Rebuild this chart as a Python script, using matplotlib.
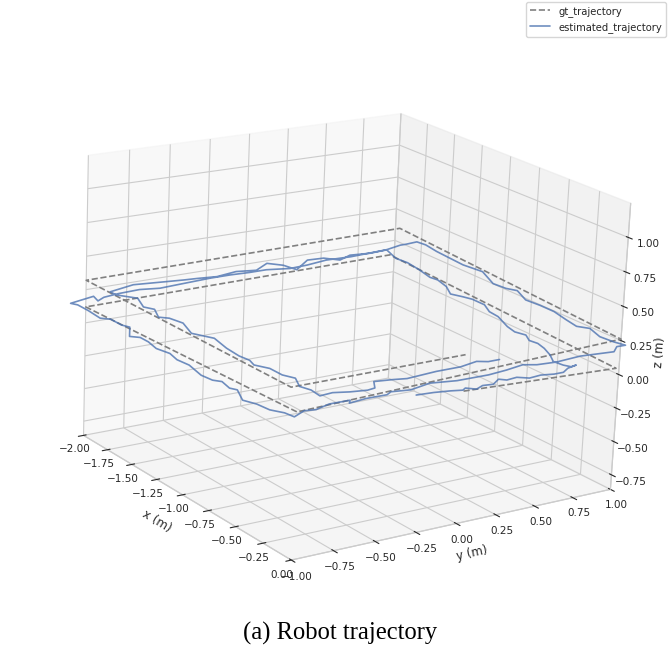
import matplotlib
matplotlib.use('Agg')
import matplotlib.pyplot as plt
import seaborn as sns

sns.set_style("whitegrid")

# ground truth, two laps of the square
gt_x = [0, 0, -2, -2, 0, 0, -2, -2, 0, 0]
gt_y = [0, 0.98, 0.97, -1, -1, 1, 1.03, -1, -1.04, 0]
gt_z = [0.10, 0.05, 0.14, 0.12, 0.18, 0.26, 0.34, 0.32, 0.36, 0.36]

est_x = [-0.03, -0.02, 0.00, 0.02, 0.00, 0.04, 0.01, 0.02, -0.03, 0.00, -0.01, 0.03, 0.02, 0.04, 0.04, 0.00,
         -0.02, -0.01, -0.05, -0.12, -0.21, -0.31, -0.39, -0.45, -0.53, -0.60, -0.69, -0.85, -0.94, -1.05, -1.16,
         -1.22, -1.29, -1.41, -1.53, -1.59, -1.73, -1.87, -1.97, -2.13, -2.11, -2.12, -2.09, -2.08,
         -2.12, -2.12, -2.13, -2.13, -2.12, -2.11, -2.10, -2.13, -2.12, -2.10, -2.06, -2.14, -2.12, -2.09, -2.05,
         -1.94, -1.80, -1.76, -1.65, -1.60, -1.47, -1.43, -1.35, -1.24, -1.14, -1.04, -0.94, -0.78, -0.69, -0.65,
         -0.55, -0.51, -0.37, -0.29, -0.19, -0.12, -0.05, -0.10, -0.07, -0.09, -0.07, -0.02, -0.02, 0.00,
         -0.01, 0.03, 0.01, 0.06, 0.08, 0.08, 0.07, 0.12, 0.15, 0.15, 0.18, 0.21, 0.17, 0.19, 0.12, 0.02, -0.11, -0.17,
         -0.28, -0.42, -0.54, -0.65, -0.80, -0.86, -0.96, -1.16, -1.31, -1.44, -1.58, -1.71, -1.78, -1.77, -1.77,
         -1.73, -1.72, -1.74, -1.69, -1.76, -1.77, -1.65, -1.75, -1.82, -1.74, -1.77,
         -1.74, -1.76, -1.77, -1.79, -1.82, -1.77, -1.71, -1.61, -1.47, -1.41, -1.29, -1.25, -1.15, -0.99, -0.91,
         -0.87, -0.71, -0.58, -0.50, -0.43, -0.35, -0.24, -0.17, -0.06, 0.01, 0.10, 0.09, 0.12, 0.12, 0.14, 0.13,
         0.05, 0.07, 0.09, 0.08, 0.07, 0.07, 0.04, 0.07, 0.07]
est_y = [-0.27, -0.17, -0.08, -0.02, 0.01, 0.05, 0.11, 0.17, 0.24, 0.27, 0.34, 0.39, 0.47, 0.54, 0.60, 0.66,
         0.73, 0.69, 0.67, 0.66, 0.71, 0.75, 0.77, 0.76, 0.80, 0.78, 0.80, 0.86, 0.87, 0.92, 0.92,
         0.90, 0.87, 0.93, 0.96, 0.95, 0.98, 1.00, 0.99, 1.04, 0.78, 0.62, 0.47, 0.35,
         0.22, 0.11, -0.01, -0.14, -0.26, -0.37, -0.48, -0.59, -0.73, -0.83, -0.89, -0.87, -0.94, -1.04, -1.02,
         -1.02, -1.03, -0.99, -0.99, -0.97, -1.05, -1.01, -1.01, -1.03, -1.01, -1.03, -1.02, -1.05, -1.04, -1.01,
         -1.03, -1.01, -1.07, -1.04, -1.03, -0.99, -0.98, -0.89, -0.84, -0.75, -0.64, -0.68, -0.58, -0.47,
         -0.44, -0.35, -0.22, -0.09, 0.09, 0.20, 0.31, 0.36, 0.46, 0.61, 0.69, 0.78, 0.83, 0.87, 0.85, 0.84, 0.88,
         0.84, 0.86, 0.89, 0.89, 0.88, 0.94, 0.91, 0.90, 0.98, 0.96, 0.97, 0.98, 1.00, 0.99, 0.91, 0.87,
         0.74, 0.63, 0.51, 0.41, 0.35, 0.25, 0.10, 0.08, 0.02, -0.10, -0.21,
         -0.35, -0.46, -0.54, -0.65, -0.82, -0.99, -0.99, -0.92, -0.97, -0.94, -0.99, -0.95, -0.93, -0.98, -0.94,
         -0.92, -0.95, -0.96, -0.95, -0.97, -0.93, -0.93, -0.90, -0.95, -0.93, -0.94, -0.86, -0.78, -0.78, -0.69, -0.64,
         -0.59, -0.49, -0.42, -0.33, -0.23, -0.08, 0.04, 0.09, 0.16]
est_z = [0.12] * 81 + [0.12, 0.13, 0.14, 0.15, 0.16, 0.17, 0.18, 0.19, 0.20, 0.21, 0.22,
                       0.23, 0.24, 0.25, 0.26, 0.27, 0.28, 0.29, 0.30, 0.31, 0.32] + [0.32] * 70

fig = plt.figure(figsize=(6.69, 6.47), dpi=100)
ax = fig.add_axes([0.0305, 0.024, 0.96, 0.93], projection="3d")
ax.plot(gt_x, gt_y, gt_z, color="gray", ls="--", lw=1.2, label="gt_trajectory")
ax.plot(est_x, est_y, est_z, color="#4c72b0", lw=1.2, alpha=0.8, label="estimated_trajectory")
ax.set_xlim(-2, 0)
ax.set_ylim(-1, 1)
ax.set_zlim(-0.86, 1.245)
ax.set_box_aspect((4, 4, 3.1))
ax.view_init(elev=18, azim=-35.5, roll=-2.5)
ax.set_xlabel("x (m)", fontsize=8.5, labelpad=-4)
ax.set_ylabel("y (m)", fontsize=8.5, labelpad=-5)
ax.set_zlabel("z (m)", fontsize=8.5, labelpad=-5)
ax.tick_params(labelsize=7.5, pad=-2)
ax.zaxis.set_tick_params(pad=0)
fig.legend(loc="upper right", fontsize=7.2, bbox_to_anchor=(1.003, 1.005))
fig.text(0.508, 0.012, "(a) Robot trajectory", family="Liberation Serif", fontsize=17.7, ha="center", color="black")
fig.savefig("out.png", dpi=100)
